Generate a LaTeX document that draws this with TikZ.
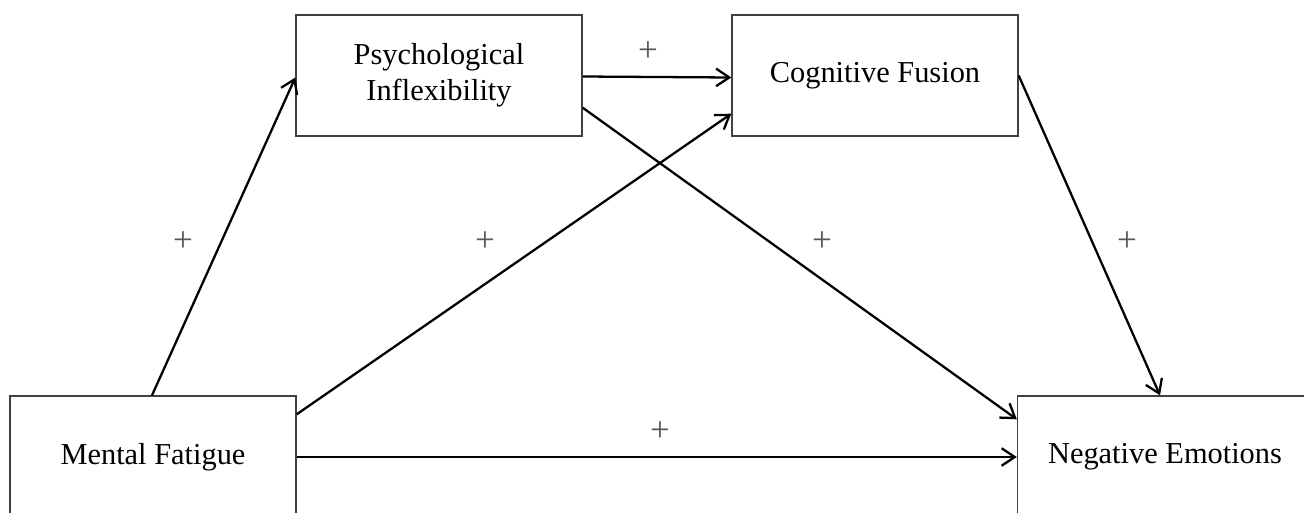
\documentclass[tikz,border=0pt]{standalone}
\usepackage{fontspec}
\setmainfont{Liberation Serif}
\usetikzlibrary{arrows.meta,calc}

\begin{document}
\begin{tikzpicture}[x=0.02cm,y=0.02cm, box/.style={draw=black!75,line width=0.8pt,align=center,minimum width=5.72cm,minimum height=2.42cm,font=\fontsize{17.3}{20.5}\selectfont}, link/.style={line width=1.3pt,-{Straight Barb[length=7.5pt,width=10pt,line width=1.3pt]}}, sign/.style={text=black!65,font=\fontsize{20}{22}\selectfont}]
\useasboundingbox (0,0) rectangle (1304,512);
\node[box] (pi) at (439,436.5) {Psychological\\Inflexibility};
\node[box] (cf) at (875,436.5) {Cognitive Fusion};
\node[box, minimum height=2.44cm] (mf) at (153,55) {Mental Fatigue};
\node[box, minimum width=5.9cm, minimum height=2.44cm] (ne) at (1165,55) {Negative Emotions};
\draw[link] ($(mf.north)+(-1,0)$) -- ($(pi.west)+(0,-2)$);
\draw[link] ($(pi.east)+(0,-1)$) -- ($(cf.west)+(0,-2)$);
\draw[link] ($(mf.north east)+(0,-19)$) -- ($(cf.south west)+(0,23)$);
\draw[link] ($(pi.south east)+(0,29)$) -- ($(ne.north west)+(0,-24)$);
\draw[link] (cf.east) -- ($(ne.north)+(-5,0)$);
\draw[link] (mf.east) -- (ne.west);
\node[sign] (s1) at (183,270) {+};
\node[sign] (s2) at (485,270) {+};
\node[sign] (s3) at (822,270) {+};
\node[sign] (s4) at (1127,270) {+};
\node[sign] (s5) at (648,460) {+};
\node[sign] (s6) at (660,80) {+};
\end{tikzpicture}
\end{document}
